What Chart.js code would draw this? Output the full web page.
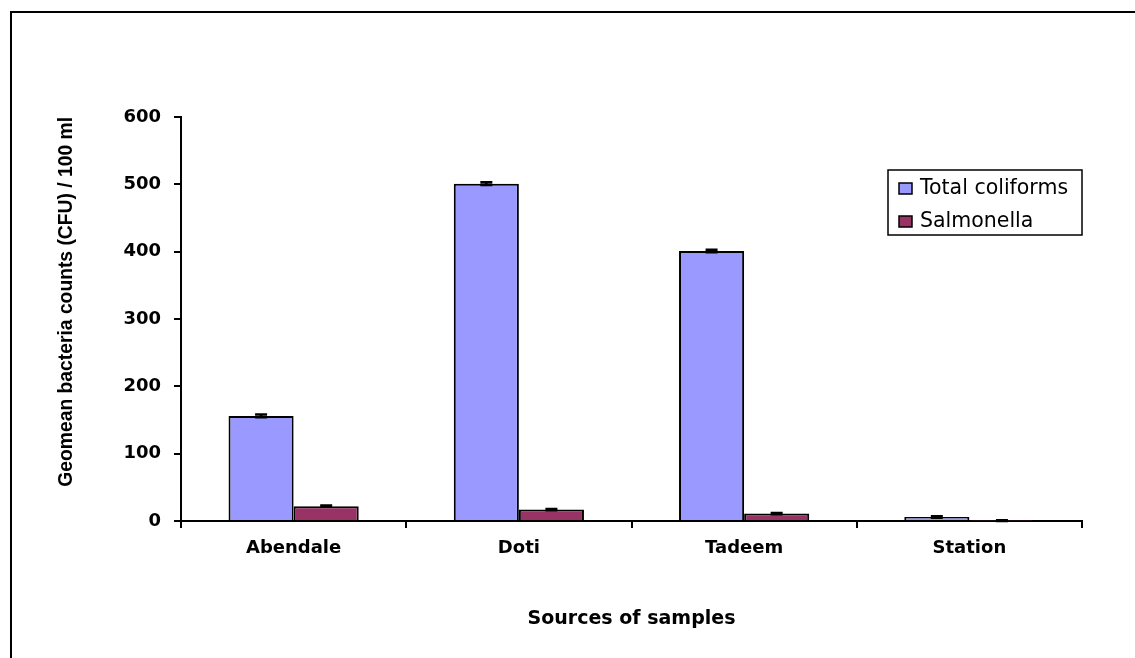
<!DOCTYPE html>
<html>
<head>
<meta charset="utf-8">
<script src="https://cdn.jsdelivr.net/npm/chart.js@4/dist/chart.umd.min.js"></script>
<style>
  html, body { margin: 0; padding: 0; background: #fff; }
  #wrap { width: 1135px; height: 658px; position: relative; }
</style>
</head>
<body>
<div id="wrap"><canvas id="c" width="1135" height="658"></canvas></div>
<script>
const categories = ["Abendale", "Doti", "Tadeem", "Station"];
const seriesNames = ["Total coliforms", "Salmonella"];
const totalColiforms = [156, 501, 401, 6];
const salmonella = [22, 17, 11, 0.5];
const totalColiformsErr = [2, 2, 2, 1];
const salmonellaErr = [1, 1, 1, 0.5];
const yTicks = [0, 100, 200, 300, 400, 500, 600];

const frame = {
  id: 'frame',
  beforeDraw(chart) {
    const ctx = chart.ctx;
    ctx.save();
    ctx.strokeStyle = '#000';
    ctx.lineWidth = 2;
    ctx.beginPath();
    ctx.moveTo(11, 658);
    ctx.lineTo(11, 12);
    ctx.lineTo(1135, 12);
    ctx.stroke();
    ctx.restore();
  }
};

const errorBars = {
  id: 'errorBars',
  afterDatasetsDraw(chart) {
    const ctx = chart.ctx;
    const y = chart.scales.y;
    const errs = [totalColiformsErr, salmonellaErr];
    ctx.save();
    ctx.strokeStyle = '#000';
    ctx.lineWidth = 2.5;
    chart.data.datasets.forEach((ds, di) => {
      const meta = chart.getDatasetMeta(di);
      meta.data.forEach((bar, i) => {
        const v = ds.data[i];
        const e = errs[di][i];
        const x = bar.x;
        const yHi = y.getPixelForValue(v + e);
        const yLo = y.getPixelForValue(Math.max(0, v - e));
        ctx.beginPath();
        ctx.moveTo(x, yHi); ctx.lineTo(x, yLo);
        ctx.moveTo(x - 6, yHi); ctx.lineTo(x + 6, yHi);
        ctx.moveTo(x - 6, yLo); ctx.lineTo(x + 6, yLo);
        ctx.stroke();
      });
    });
    ctx.restore();
  }
};

const customLegend = {
  id: 'customLegend',
  afterDraw(chart) {
    const ctx = chart.ctx;
    const area = chart.chartArea;
    ctx.save();
    ctx.font = '20.5px "DejaVu Sans"';
    ctx.textBaseline = 'middle';
    const left = 888, top = 170, right = area.right, bottom = 235;
    ctx.strokeStyle = '#000';
    ctx.lineWidth = 1.5;
    ctx.strokeRect(left, top, right - left, bottom - top);
    chart.data.datasets.forEach((ds, i) => {
      const cy = 188.5 + i * 33;
      ctx.fillStyle = ds.backgroundColor;
      ctx.fillRect(899, cy - 5.5, 13, 11);
      ctx.strokeStyle = '#000';
      ctx.lineWidth = 1.5;
      ctx.strokeRect(899, cy - 5.5, 13, 11);
      ctx.fillStyle = '#000';
      ctx.fillText(ds.label, 920, cy);
    });
    ctx.restore();
  }
};

new Chart(document.getElementById('c'), {
  type: 'bar',
  data: {
    labels: categories,
    datasets: [
      { label: seriesNames[0], data: totalColiforms, backgroundColor: '#9999FF', borderColor: '#000', borderWidth: 2 },
      { label: seriesNames[1], data: salmonella, backgroundColor: '#993366', borderColor: '#000', borderWidth: 2 }
    ]
  },
  options: {
    responsive: false,
    animation: false,
    devicePixelRatio: 1,
    layout: { padding: { left: 0, right: 53, top: 117, bottom: 0 } },
    datasets: { bar: { categoryPercentage: 0.578, barPercentage: 1.0 } },
    plugins: { legend: { display: false }, tooltip: { enabled: false } },
    scales: {
      x: {
        grid: { display: true, drawOnChartArea: false, drawTicks: true, tickLength: 7, color: '#000', lineWidth: 2, offset: true },
        border: { display: true, color: '#000', width: 2 },
        ticks: { color: '#000', font: { family: '"DejaVu Sans"', size: 18, weight: 'bold' }, padding: 10, maxRotation: 0 },
        title: { display: true, text: 'Sources of samples', color: '#000', font: { family: '"DejaVu Sans"', size: 19, weight: 'bold' }, padding: { top: 0, bottom: 28 } },
        afterFit(scale) { scale.height = 137; }
      },
      y: {
        min: 0, max: 600,
        afterBuildTicks(scale) { scale.ticks = yTicks.map(v => ({ value: v })); },
        grid: { display: true, drawOnChartArea: false, drawTicks: true, tickLength: 7, color: '#000', lineWidth: 2 },
        border: { display: true, color: '#000', width: 2 },
        ticks: { color: '#000', font: { family: '"DejaVu Sans"', size: 18, weight: 'bold' }, padding: 13 },
        title: { display: true, text: 'Geomean bacteria counts (CFU) / 100 ml', align: 'end', color: '#000', font: { family: '"Liberation Sans"', size: 19.3, weight: 'bold' }, padding: { top: 55, bottom: 0 } },
        afterFit(scale) { scale.width = 181; }
      }
    }
  },
  plugins: [frame, errorBars, customLegend]
});
</script>
</body>
</html>
